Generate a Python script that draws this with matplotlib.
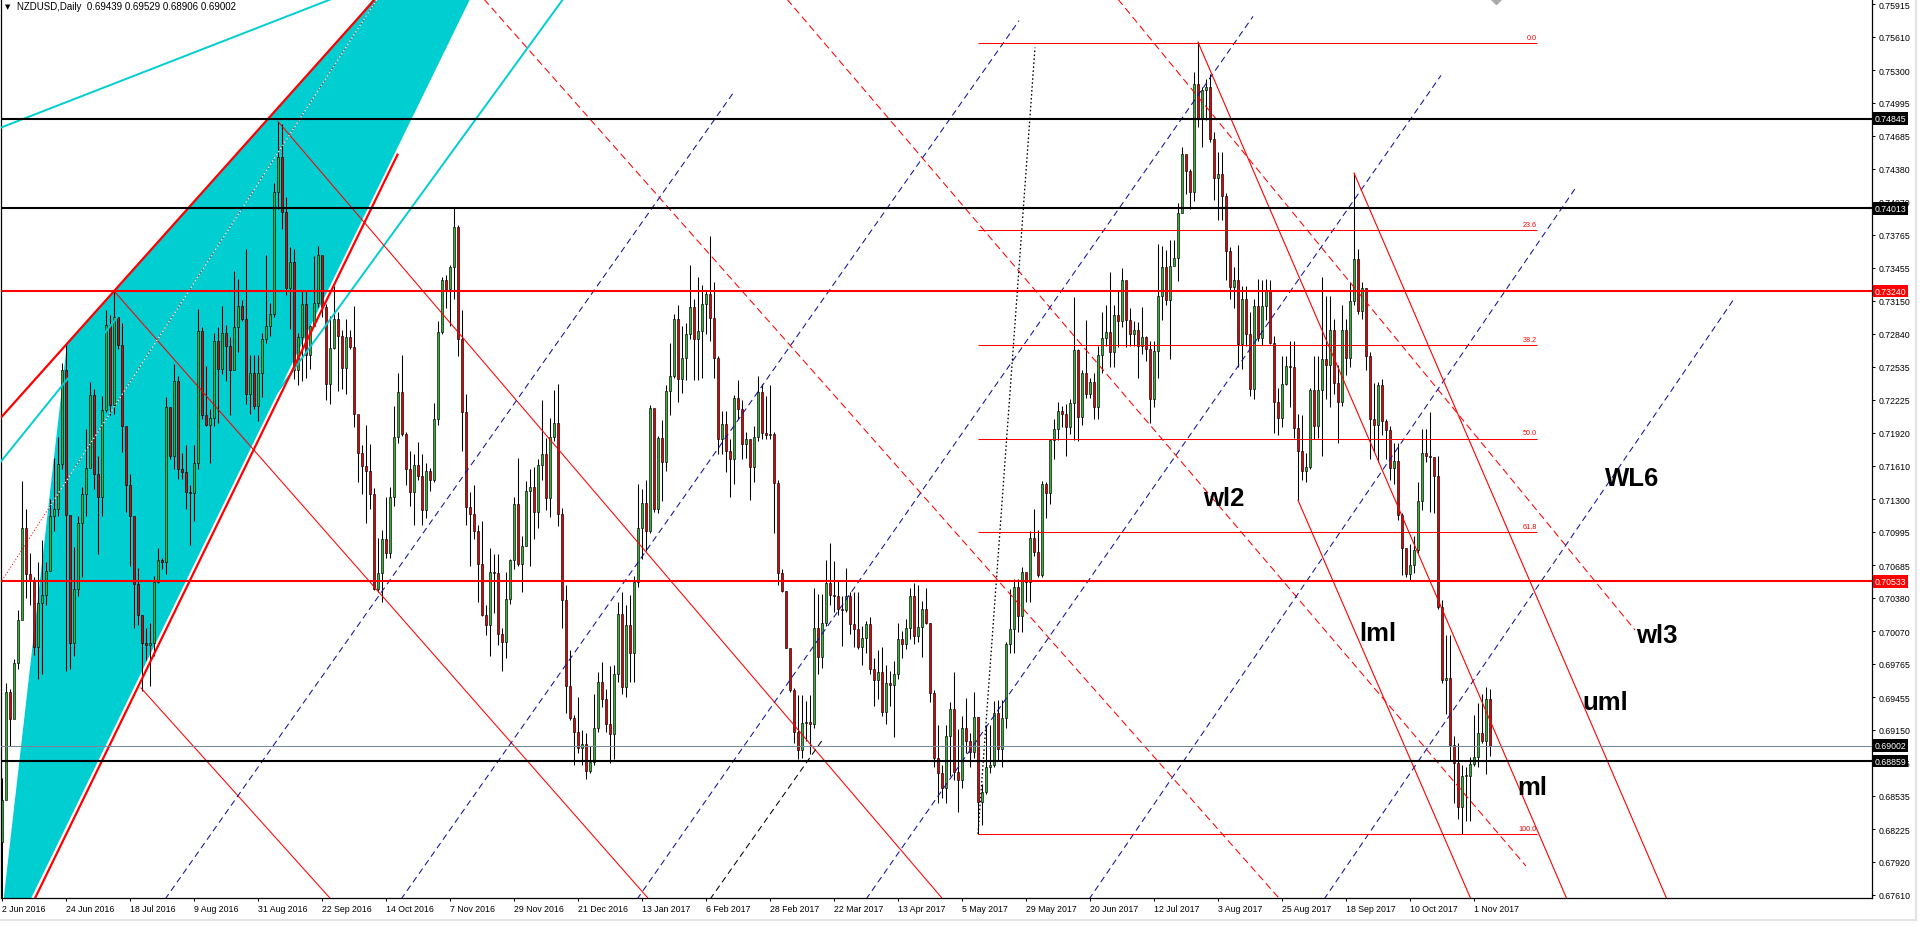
import numpy as np
import matplotlib
matplotlib.use('Agg')
import matplotlib.pyplot as plt
from matplotlib.patches import Polygon
from matplotlib.lines import Line2D

# daily NZDUSD candles, prices in pips (x 0.0001), bar 0 = 2 Jun 2016
first_open = 6810
close_pips = [
    6850, 6950, 6925, 6977, 7017, 7103, 7060, 7055, 6992, 7033, 7041, 7063, 7114, 7121, 7163, 7250,
    7115, 6996, 7046, 7108, 7135, 7159, 7227, 7153, 7132, 7213, 7292, 7218, 7300, 7274, 7198, 7143,
    7114, 7051, 7022, 6996, 6994, 6996, 7053, 7073, 7071, 7216, 7170, 7240, 7158, 7155, 7137, 7136,
    7164, 7287, 7208, 7199, 7206, 7277, 7251, 7285, 7273, 7250, 7290, 7310, 7298, 7228, 7248, 7217,
    7248, 7279, 7291, 7303, 7416, 7449, 7398, 7327, 7351, 7250, 7281, 7312, 7264, 7291, 7313, 7358,
    7309, 7237, 7271, 7298, 7282, 7252, 7281, 7272, 7209, 7173, 7161, 7156, 7135, 7046, 7061, 7093,
    7080, 7132, 7188, 7230, 7191, 7158, 7137, 7162, 7152, 7120, 7156, 7148, 7205, 7286, 7334, 7326,
    7346, 7384, 7279, 7211, 7123, 7116, 7100, 7070, 7022, 7013, 7062, 7061, 7004, 6997, 7037, 7073,
    7125, 7070, 7086, 7138, 7141, 7118, 7162, 7172, 7131, 7188, 7201, 7116, 7036, 6956, 6926, 6913,
    6898, 6902, 6877, 6885, 6917, 6960, 6944, 6920, 6911, 6967, 7023, 6955, 7013, 6987, 7053, 7103,
    7126, 7100, 7215, 7121, 7187, 7165, 7231, 7245, 7298, 7242, 7262, 7284, 7309, 7279, 7287, 7312,
    7321, 7299, 7262, 7186, 7200, 7175, 7167, 7224, 7214, 7181, 7186, 7160, 7188, 7230, 7192, 7190,
    7191, 7145, 7061, 7044, 6991, 6952, 6913, 6896, 6921, 6922, 6920, 7010, 6983, 7015, 7052, 7041,
    7040, 7028, 7027, 7040, 7014, 7009, 6992, 7001, 7014, 6972, 6961, 6969, 6932, 6959, 6957, 6967,
    7000, 6995, 7010, 7040, 7002, 7011, 7028, 7015, 6949, 6889, 6875, 6861, 6909, 6934, 6876, 6868,
    6917, 6905, 6894, 6927, 6848, 6857, 6880, 6882, 6931, 6897, 6926, 6995, 7009, 7048, 7021, 7062,
    7053, 7094, 7081, 7059, 7144, 7136, 7185, 7195, 7212, 7209, 7197, 7220, 7269, 7207, 7248, 7228,
    7239, 7216, 7264, 7280, 7286, 7267, 7302, 7296, 7334, 7297, 7284, 7288, 7273, 7281, 7270, 7223,
    7268, 7319, 7346, 7316, 7347, 7355, 7397, 7452, 7436, 7416, 7517, 7485, 7511, 7514, 7466, 7429,
    7433, 7413, 7361, 7328, 7334, 7275, 7317, 7284, 7233, 7310, 7280, 7310, 7325, 7276, 7221, 7206,
    7237, 7254, 7253, 7196, 7175, 7156, 7160, 7232, 7198, 7232, 7261, 7255, 7288, 7238, 7221, 7288,
    7262, 7315, 7354, 7305, 7327, 7263, 7205, 7199, 7236, 7203, 7194, 7159, 7166, 7115, 7084, 7060,
    7069, 7083, 7128, 7173, 7170, 7169, 7152, 7029, 6961, 6963, 6901, 6884, 6843, 6872, 6872, 6883,
    6890, 6912, 6905, 6944, 6900,
]
high_pips = [
    6870, 6959, 6953, 6981, 7027, 7147, 7121, 7080, 7057, 7071, 7092, 7071, 7130, 7168, 7188, 7257,
    7276, 7113, 7085, 7114, 7141, 7195, 7239, 7233, 7170, 7226, 7306, 7302, 7324, 7302, 7294, 7195,
    7153, 7097, 7066, 7022, 7010, 7015, 7058, 7084, 7075, 7225, 7216, 7256, 7245, 7173, 7180, 7143,
    7180, 7307, 7290, 7254, 7214, 7285, 7290, 7310, 7292, 7281, 7343, 7335, 7316, 7363, 7264, 7264,
    7264, 7285, 7358, 7313, 7425, 7482, 7480, 7412, 7365, 7363, 7285, 7324, 7324, 7292, 7357, 7366,
    7345, 7312, 7301, 7329, 7304, 7288, 7298, 7288, 7310, 7206, 7180, 7199, 7181, 7140, 7094, 7101,
    7132, 7141, 7217, 7248, 7264, 7193, 7175, 7172, 7183, 7172, 7164, 7159, 7220, 7296, 7337, 7339,
    7348, 7401, 7386, 7306, 7228, 7137, 7143, 7106, 7110, 7031, 7084, 7079, 7079, 7010, 7062, 7074,
    7132, 7168, 7096, 7147, 7158, 7160, 7167, 7222, 7187, 7206, 7232, 7237, 7122, 7050, 6989, 6929,
    6946, 6915, 6912, 6900, 6948, 6969, 6978, 6953, 6974, 6975, 7034, 7043, 7031, 7041, 7058, 7144,
    7139, 7148, 7218, 7213, 7189, 7204, 7236, 7276, 7303, 7311, 7291, 7294, 7348, 7317, 7337, 7330,
    7325, 7375, 7332, 7263, 7212, 7212, 7186, 7227, 7241, 7222, 7193, 7186, 7198, 7245, 7237, 7226,
    7236, 7193, 7148, 7065, 7044, 6990, 6954, 6947, 6947, 6942, 6947, 7047, 7042, 7042, 7073, 7089,
    7072, 7054, 7040, 7066, 7043, 7043, 7043, 7012, 7016, 7020, 6982, 6989, 6992, 6975, 6970, 6979,
    7015, 7007, 7018, 7047, 7052, 7050, 7035, 7047, 7015, 6952, 6919, 6882, 6919, 6941, 6969, 6916,
    6928, 6945, 6912, 6950, 6927, 6864, 6919, 6919, 6942, 6943, 6943, 6997, 7046, 7056, 7056, 7067,
    7059, 7100, 7121, 7101, 7147, 7146, 7186, 7205, 7221, 7217, 7219, 7223, 7318, 7270, 7250, 7297,
    7243, 7248, 7273, 7304, 7311, 7342, 7311, 7325, 7345, 7331, 7308, 7296, 7295, 7309, 7282, 7277,
    7277, 7368, 7366, 7362, 7372, 7372, 7406, 7458, 7446, 7438, 7528, 7556, 7514, 7522, 7526, 7472,
    7454, 7454, 7415, 7365, 7346, 7367, 7329, 7329, 7304, 7317, 7335, 7334, 7335, 7334, 7282, 7234,
    7263, 7263, 7277, 7277, 7209, 7208, 7173, 7234, 7263, 7263, 7337, 7319, 7319, 7298, 7255, 7311,
    7298, 7332, 7434, 7363, 7332, 7327, 7267, 7238, 7239, 7242, 7205, 7198, 7182, 7182, 7117, 7084,
    7088, 7096, 7146, 7195, 7195, 7211, 7169, 7170, 7036, 7003, 7003, 6909, 6903, 6882, 6880, 6890,
    6929, 6940, 6948, 6955, 6953,
]
low_pips = [
    6750, 6870, 6900, 6940, 6972, 7069, 7038, 7031, 6985, 6962, 6967, 7031, 7065, 7100, 7114, 7158,
    6970, 6972, 6984, 7040, 7057, 7114, 7164, 7139, 7079, 7114, 7211, 7208, 7209, 7270, 7174, 7118,
    7068, 7010, 7013, 6951, 6980, 6956, 6984, 7052, 7065, 7060, 7167, 7158, 7149, 7149, 7121, 7087,
    7110, 7158, 7205, 7198, 7164, 7198, 7201, 7247, 7240, 7208, 7250, 7267, 7296, 7219, 7209, 7214,
    7203, 7225, 7276, 7282, 7300, 7400, 7382, 7320, 7289, 7242, 7236, 7240, 7243, 7251, 7292, 7309,
    7300, 7222, 7219, 7270, 7231, 7233, 7228, 7270, 7197, 7146, 7135, 7108, 7121, 7045, 7043, 7034,
    7075, 7075, 7124, 7182, 7189, 7143, 7124, 7106, 7148, 7106, 7112, 7138, 7146, 7199, 7284, 7308,
    7291, 7317, 7263, 7175, 7106, 7068, 7093, 7034, 7021, 7003, 6984, 7024, 6994, 6970, 6982, 7032,
    7065, 7068, 7043, 7086, 7068, 7093, 7103, 7148, 7120, 7113, 7184, 7105, 7010, 6931, 6924, 6882,
    6893, 6882, 6869, 6875, 6882, 6913, 6936, 6913, 6884, 6888, 6960, 6948, 6946, 6960, 6960, 7048,
    7074, 7082, 7098, 7118, 7117, 7128, 7156, 7208, 7243, 7221, 7229, 7241, 7279, 7241, 7241, 7243,
    7284, 7277, 7243, 7172, 7172, 7155, 7132, 7144, 7205, 7167, 7168, 7129, 7146, 7184, 7186, 7186,
    7186, 7098, 7050, 7043, 6991, 6950, 6903, 6888, 6889, 6905, 6892, 6917, 6967, 6973, 7012, 7031,
    7025, 7022, 6993, 7025, 7004, 6992, 6990, 6975, 6987, 6967, 6937, 6944, 6928, 6920, 6937, 6908,
    6962, 6982, 6990, 7000, 6995, 6997, 6983, 7014, 6941, 6880, 6847, 6851, 6847, 6872, 6868, 6838,
    6861, 6893, 6880, 6889, 6818, 6826, 6855, 6875, 6880, 6886, 6880, 6917, 6987, 6987, 7006, 7006,
    7034, 7034, 7077, 7057, 7057, 7112, 7125, 7167, 7185, 7197, 7170, 7191, 7185, 7184, 7199, 7224,
    7224, 7205, 7205, 7248, 7273, 7253, 7253, 7272, 7290, 7272, 7273, 7273, 7243, 7265, 7259, 7201,
    7216, 7243, 7297, 7311, 7261, 7351, 7333, 7397, 7414, 7400, 7408, 7477, 7458, 7483, 7463, 7409,
    7390, 7390, 7334, 7317, 7308, 7253, 7251, 7273, 7226, 7223, 7277, 7274, 7297, 7275, 7192, 7190,
    7197, 7236, 7216, 7187, 7129, 7148, 7146, 7158, 7186, 7187, 7170, 7223, 7216, 7228, 7182, 7217,
    7246, 7253, 7311, 7303, 7298, 7250, 7167, 7174, 7165, 7190, 7167, 7148, 7144, 7111, 7059, 7057,
    7055, 7061, 7080, 7120, 7165, 7118, 7117, 7028, 6959, 6930, 6886, 6847, 6832, 6818, 6830, 6830,
    6881, 6880, 6903, 6874, 6891,
]

x_ticks = list(range(0, 369, 16))
x_labels = ['2 Jun 2016', '24 Jun 2016', '18 Jul 2016', '9 Aug 2016', '31 Aug 2016', '22 Sep 2016',
            '14 Oct 2016', '7 Nov 2016', '29 Nov 2016', '21 Dec 2016', '13 Jan 2017', '6 Feb 2017',
            '28 Feb 2017', '22 Mar 2017', '13 Apr 2017', '5 May 2017', '29 May 2017', '20 Jun 2017',
            '12 Jul 2017', '3 Aug 2017', '25 Aug 2017', '18 Sep 2017', '10 Oct 2017', '1 Nov 2017']
y_ticks = [0.75915, 0.75610, 0.75300, 0.74995, 0.74685, 0.74380, 0.74070, 0.73765, 0.73455,
           0.73150, 0.72840, 0.72535, 0.72225, 0.71920, 0.71610, 0.71300, 0.70995, 0.70685,
           0.70380, 0.70070, 0.69765, 0.69455, 0.69150, 0.68845, 0.68535, 0.68225, 0.67920, 0.67610]

# horizontal levels
black_levels = [0.74845, 0.74013, 0.68859]
red_levels = [0.73240, 0.70533]
last_price = 0.69002
price_boxes = [(0.74845, 'black'), (0.74013, 'black'), (0.73240, '#ff0000'),
               (0.70533, '#ff0000'), (0.69002, 'black'), (0.68859, 'black')]

# drawn objects as (bar, price, bar, price)
cyan_fill = [(0.25, 0.6752), (16.25, 0.7275), (93.25, 0.7596), (117, 0.7596), (6.5, 0.6752)]
red_thick = [(-0.5, 0.7205, 93.25, 0.7596), (8.25, 0.6758, 99, 0.7452)]
cyan_lines = [(-0.5, 0.7476, 82.25, 0.7596), (-0.5, 0.7164, 93, 0.7596), (140.25, 0.7596, 65.75, 0.7214)]
mid_dotted = (0, 0.7054, 93.75, 0.7596)
red_thin = [(28, 0.7324, 161.75, 0.6757), (34.75, 0.6954, 82.25, 0.6757), (69, 0.7482, 235.25, 0.6757)]
red_dashed = [(120.5, 0.7596, 319.5, 0.6757), (196.25, 0.7596, 381, 0.6788), (279, 0.7596, 408.25, 0.7008)]
fork_lines = [(299, 0.7556, 391.25, 0.6757), (338, 0.7434, 416.25, 0.6757), (324, 0.7129, 367.25, 0.6757)]
blue_dashed = [(40.75, 0.6757, 183.25, 0.7511), (99.75, 0.6757, 254.25, 0.7576),
               (158.75, 0.6757, 312.75, 0.7580), (216, 0.6757, 359.75, 0.7525),
               (271.75, 0.6757, 393.75, 0.7422), (330.5, 0.6757, 433.25, 0.7318)]
black_dashed = (177, 0.6757, 205, 0.6905)
black_dotted = (244, 0.6818, 258.25, 0.7551)

fib_start, fib_end = 244, 383.75
fib_high, fib_low = 0.7555, 0.6818
fib_levels = [0.0, 23.6, 38.2, 50.0, 61.8, 100.0]

labels = [('wl2', 305.5, 0.71311), ('lml', 344, 0.70053), ('ml', 382.5, 0.68617),
          ('uml', 400.75, 0.69409), ('wl3', 413.75, 0.70034), ('WL6', 407.5, 0.71497)]

closes = np.array(close_pips) / 10000
highs = np.array(high_pips) / 10000
lows = np.array(low_pips) / 10000
opens = np.concatenate([[first_open / 10000], closes[:-1]])
idx = np.arange(len(closes))

W, H = 1920, 928
fig = plt.figure(figsize=(19.2, 9.28), dpi=100)
ax = fig.add_axes([1 / W, 29 / H, 1871 / W, 899 / H])
ax.set_xlim(-0.25, 467.5)
ax.set_ylim(0.67582, 0.75962)

# cyan channel (background)
poly = Polygon(cyan_fill, closed=True, facecolor='#00ced1', edgecolor='none', zorder=1)
ax.add_patch(poly)

# candles
up = closes >= opens
ax.vlines(idx, lows, highs, color='black', lw=0.75, zorder=2)
body_lo = np.minimum(opens, closes)
body_h = np.maximum(np.abs(closes - opens), 0.00004)
ax.bar(idx[up], body_h[up], bottom=body_lo[up], width=0.72, color='#32b432',
       edgecolor='black', linewidth=0.45, zorder=2.1)
ax.bar(idx[~up], body_h[~up], bottom=body_lo[~up], width=0.72, color='#e60000',
       edgecolor='black', linewidth=0.45, zorder=2.1)


def seg(s, **kw):
    ax.plot([s[0], s[2]], [s[1], s[3]], zorder=kw.pop('zorder', 3), **kw)


for s in cyan_lines:
    seg(s, color='#00ced1', lw=1.4, solid_capstyle='butt')
for s in red_thick:
    seg(s, color='#ff0000', lw=1.6, solid_capstyle='butt')
seg(mid_dotted, color='#ff0000', lw=0.75, ls=(0, (1, 2)))
wd, = ax.plot([mid_dotted[0], mid_dotted[2]], [mid_dotted[1], mid_dotted[3]],
              color='white', lw=0.9, ls=(0, (1, 2)), zorder=3.1)
wd.set_clip_path(poly)

for s in red_thin:
    seg(s, color='#ff0000', lw=0.75)
for s in red_dashed:
    seg(s, color='#ff0000', lw=0.75, ls=(0, (7, 4)))
for s in blue_dashed:
    seg(s, color='#10109a', lw=0.75, ls=(0, (6, 4)))
seg(black_dashed, color='black', lw=0.75, ls=(0, (6, 4)))
seg(black_dotted, color='black', lw=0.95, ls=(0, (1.2, 1.8)))
for s in fork_lines:
    seg(s, color='#ff0000', lw=0.8)

# fibonacci retracement
for lvl in fib_levels:
    p = fib_high - lvl / 100 * (fib_high - fib_low)
    ax.hlines(p, fib_start, fib_end, color='#ff0000', lw=0.75, zorder=3)
    ax.text(fib_end, p + 0.0002, f'{lvl:.1f}', color='#ff0000', fontsize=5.2,
            family='Liberation Sans', ha='right', va='bottom', zorder=4)

# horizontal levels
for v in black_levels:
    ax.axhline(v, color='black', lw=1.5, zorder=3.5)
for v in red_levels:
    ax.axhline(v, color='#ff0000', lw=1.5, zorder=3.5)
ax.axhline(last_price, color='#778899', lw=0.75, zorder=3.4)

for txt, xi, yp in labels:
    ax.text(xi, yp, txt, fontsize=18.5, fontweight='bold', family='Liberation Sans',
            ha='center', va='center', color='black', zorder=5)

# shift marker at top
ax.plot([373.5], [0.75962], marker='D', ms=5, color='#a9a9a9', zorder=5, clip_on=True)

# axes styling
ax.spines['top'].set_visible(False)
for side in ['left', 'right', 'bottom']:
    ax.spines[side].set_linewidth(0.9)
    ax.spines[side].set_color('black')

ax.yaxis.tick_right()
ax.set_yticks(y_ticks)
ax.set_yticklabels([f'{v:.5f}' for v in y_ticks])
ax.tick_params(axis='y', length=2.5, width=0.7, pad=2, labelsize=6.3, colors='black')
ax.set_xticks(x_ticks)
ax.set_xticklabels(x_labels, ha='left')
ax.tick_params(axis='x', length=2.5, width=0.7, pad=1.5, labelsize=6.3, colors='black')
for lab in ax.get_xticklabels() + ax.get_yticklabels():
    lab.set_family('Liberation Sans')

# price boxes on the scale (they cover the tick labels underneath, as in the terminal)
tr = ax.get_yaxis_transform()
for v, c in price_boxes:
    ax.text(1.0013, v, f'{v:.5f}', transform=tr, ha='left', va='center', color='white',
            fontsize=6.3, family='Liberation Sans', zorder=6,
            bbox=dict(boxstyle='square,pad=0.22', fc=c, ec='none'))

# header
fig.text(8 / W, 1 - 7 / H, '▼', fontsize=5, ha='center', va='center', family='DejaVu Sans')
fig.text(17 / W, 1 - 7 / H, 'NZDUSD,Daily  0.69439 0.69529 0.68906 0.69002', fontsize=7,
         ha='left', va='center', family='Liberation Sans')

fig.add_artist(Line2D([0, 1916 / W], [1 - 921 / H] * 2, color='#e3e3e3', lw=1.5))
fig.add_artist(Line2D([1916 / W] * 2, [1 - 921 / H, 1], color='#e3e3e3', lw=1.5))

fig.savefig('out.png', dpi=100)
